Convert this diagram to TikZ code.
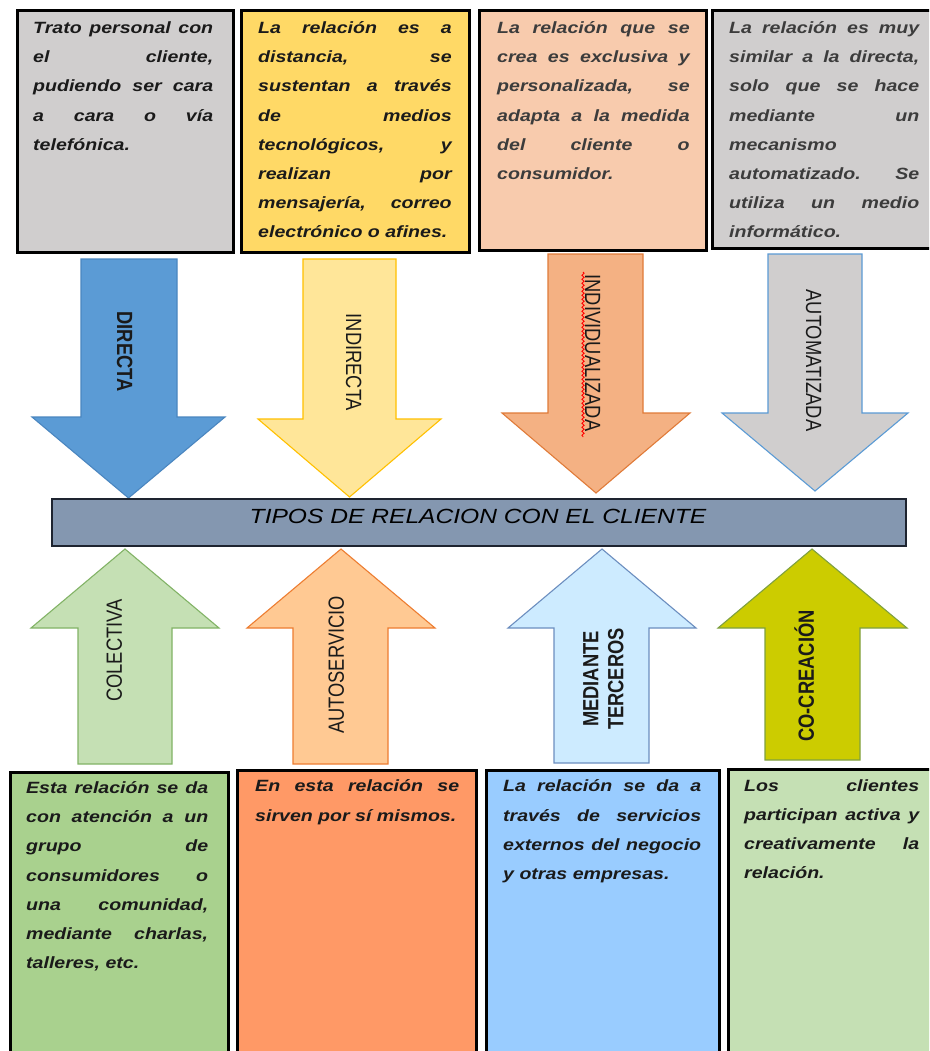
\documentclass[tikz,border=0pt]{standalone}
\usepackage{fontspec}
\setmainfont{Liberation Sans}
% wide face for the panel texts and the title, tall face for the arrow labels
\newfontfamily\widefont[FakeStretch=1.2]{Liberation Sans}
\newfontfamily\tallfont[FakeStretch=0.833]{Liberation Sans}
\usetikzlibrary{decorations.pathmorphing}

\definecolor{panelGray}{HTML}{D0CECE}
\definecolor{panelYellow}{HTML}{FFD966}
\definecolor{panelPeach}{HTML}{F8CBAD}
\definecolor{panelGreen}{HTML}{A9D18E}
\definecolor{panelOrange}{HTML}{FF9966}
\definecolor{panelBlue}{HTML}{99CCFF}
\definecolor{panelMint}{HTML}{C5E0B4}
\definecolor{barFill}{HTML}{8497B0}
\definecolor{barLine}{HTML}{1E2430}
\definecolor{txtDark}{HTML}{1A1A1A}
\definecolor{txtGray}{HTML}{3C3C3C}
% block arrow fills and outlines
\definecolor{aDirF}{HTML}{5B9BD5}\definecolor{aDirD}{HTML}{4A86C0}
\definecolor{aIndF}{HTML}{FFE699}\definecolor{aIndD}{HTML}{FFC000}
\definecolor{aIvzF}{HTML}{F4B183}\definecolor{aIvzD}{HTML}{E07B39}
\definecolor{aAutF}{HTML}{D0CECE}\definecolor{aAutD}{HTML}{5B9BD5}
\definecolor{aColF}{HTML}{C5E0B4}\definecolor{aColD}{HTML}{82B366}
\definecolor{aSrvF}{HTML}{FFC993}\definecolor{aSrvD}{HTML}{ED7D31}
\definecolor{aTerF}{HTML}{CDEBFF}\definecolor{aTerD}{HTML}{6C8EBF}
\definecolor{aCoF}{HTML}{CCCC00}\definecolor{aCoD}{HTML}{7FA040}

\tikzset{
  panel/.style={draw=black, line width=3pt, anchor=north west, inner sep=0pt},
  desc/.style={anchor=north west, inner sep=0pt, align=justify, text width=#1,
    text=txtDark,
    font=\widefont\bfseries\itshape\fontsize{16.3}{29.2}\selectfont,
    execute at begin node={\tolerance=10000\hyphenpenalty=10000\exhyphenpenalty=10000\rule{0pt}{21pt}}},
  blockarrow/.style={line width=1.1pt, line join=miter},
  downlabel/.style={rotate=-90, inner sep=0pt, text=txtDark,
    font=\tallfont\fontsize{22}{25}\selectfont, text height=15.8pt, text depth=0pt},
  uplabel/.style={rotate=90, inner sep=0pt, text=txtDark,
    font=\tallfont\fontsize{22}{25}\selectfont, text height=15.8pt, text depth=0pt},
}

\begin{document}
\begin{tikzpicture}[x=1pt, y=-1pt]
\useasboundingbox (0,0) rectangle (929,1051);
\fill[white] (0,0) rectangle (929,1051);
\clip (0,0) rectangle (929,1051);

% ---------- upper panels ----------
\node[panel, fill=panelGray,   minimum width=216pt, minimum height=241pt] (pDirecta)   at (15.5,9.5) {};
\node[panel, fill=panelYellow, minimum width=228pt, minimum height=241.5pt] (pIndirecta) at (239.5,9.5) {};
\node[panel, fill=panelPeach,  minimum width=227pt, minimum height=239.5pt] (pIndiv)     at (477.5,9.5) {};
\node[panel, fill=panelGray,   minimum width=230pt, minimum height=237.5pt] (pAuto)      at (710.5,9.5) {};

\node[desc=180pt] (tDirecta) at (33,12.3)
  {Trato personal con\linebreak el cliente,\linebreak pudiendo ser cara\linebreak a cara o vía\linebreak telefónica.};
\node[desc=193.5pt] (tIndirecta) at (258,12.3)
  {La relación es a\linebreak distancia, se\linebreak sustentan a través\linebreak de medios\linebreak tecnológicos, y\linebreak realizan por\linebreak mensajería, correo\linebreak electrónico o afines.};
\node[desc=192.5pt, text=txtGray] (tIndiv) at (497,12.3)
  {La relación que se\linebreak crea es exclusiva y\linebreak personalizada, se\linebreak adapta a la medida\linebreak del cliente o\linebreak consumidor.};
\node[desc=190pt, text=txtGray] (tAuto) at (729,12.3)
  {La relación es muy\linebreak similar a la directa,\linebreak solo que se hace\linebreak mediante un\linebreak mecanismo\linebreak automatizado. Se\linebreak utiliza un medio\linebreak informático.};

% ---------- downward arrows ----------
\filldraw[blockarrow, fill=aDirF, draw=aDirD]
  (81,259) -- (177,259) -- (177,417) -- (225,417) -- (128.5,498) -- (32,417) -- (81,417) -- cycle;
\filldraw[blockarrow, fill=aIndF, draw=aIndD]
  (303,259) -- (396,259) -- (396,419) -- (441,419) -- (349.5,497) -- (258,419) -- (303,419) -- cycle;
\filldraw[blockarrow, fill=aIvzF, draw=aIvzD]
  (548,254) -- (643,254) -- (643,413) -- (690,413) -- (596,493) -- (502,413) -- (548,413) -- cycle;
\filldraw[blockarrow, fill=aAutF, draw=aAutD]
  (768,254) -- (862,254) -- (862,413) -- (908,413) -- (815,491) -- (722,413) -- (768,413) -- cycle;

\node[downlabel, font=\tallfont\bfseries\fontsize{22}{25}\selectfont] (lDirecta) at (125,351.5) {DIRECTA};
\node[downlabel] (lIndirecta) at (354,362.5) {INDIRECTA};
\node[downlabel] (lIndiv) at (593,353) {INDIVIDUALIZADA};
\node[downlabel] (lAuto) at (814,360.5) {AUTOMATIZADA};
% spell-check squiggle under the long label
\draw[red, line width=0.9pt, decorate, decoration={snake, amplitude=1.1pt, segment length=4pt}]
  (583,272) -- (583,437);

% ---------- central bar ----------
\node[draw=barLine, line width=1.5pt, fill=barFill, minimum width=854pt, minimum height=47pt, inner sep=0pt]
  (tipos) at (479,522.5) {};
\node[anchor=base, inner sep=0pt, text=black, font=\widefont\itshape\fontsize{20.5}{24}\selectfont]
  (tiposText) at (478,523.3) {TIPOS DE RELACION CON EL CLIENTE};

% ---------- upward arrows ----------
\filldraw[blockarrow, fill=aColF, draw=aColD]
  (78,764) -- (172,764) -- (172,628) -- (219,628) -- (125,549) -- (31,628) -- (78,628) -- cycle;
\filldraw[blockarrow, fill=aSrvF, draw=aSrvD]
  (293,764) -- (388,764) -- (388,628) -- (435,628) -- (341,549) -- (247,628) -- (293,628) -- cycle;
\filldraw[blockarrow, fill=aTerF, draw=aTerD]
  (554,763) -- (649,763) -- (649,628) -- (696,628) -- (602,549) -- (508,628) -- (554,628) -- cycle;
\filldraw[blockarrow, fill=aCoF, draw=aCoD]
  (765,760) -- (860,760) -- (860,628) -- (907,628) -- (812,549) -- (718,628) -- (765,628) -- cycle;

\node[uplabel] (lColectiva) at (114,650.5) {COLECTIVA};
\node[uplabel] (lAutoserv) at (336,665) {AUTOSERVICIO};
\node[rotate=90, inner sep=0pt, text=txtDark, align=center,
      font=\tallfont\bfseries\fontsize{22}{25}\selectfont] (lTerceros) at (603.5,679) {MEDIANTE\\TERCEROS};
\node[uplabel, font=\tallfont\bfseries\fontsize{22}{25}\selectfont] (lCocrea) at (806,676) {CO-CREACIÓN};

% ---------- lower panels ----------
\node[panel, fill=panelGreen,  minimum width=218pt, minimum height=300pt] (pColectiva) at (8.5,770.5) {};
\node[panel, fill=panelOrange, minimum width=239.5pt, minimum height=300pt] (pAutoserv) at (235.5,768.5) {};
\node[panel, fill=panelBlue,   minimum width=233pt, minimum height=300pt] (pTerceros) at (484.5,768.5) {};
\node[panel, fill=panelMint,   minimum width=215pt, minimum height=300pt] (pCocrea) at (726.5,767.5) {};

\node[desc=182pt] (tColectiva) at (26,772.3)
  {Esta relación se da\linebreak con atención a un\linebreak grupo de\linebreak consumidores o\linebreak una comunidad,\linebreak mediante charlas,\linebreak talleres, etc.};
\node[desc=204pt] (tAutoserv) at (255,770.7)
  {En esta relación se\linebreak sirven por sí mismos.};
\node[desc=198pt] (tTerceros) at (503,770.7)
  {La relación se da a\linebreak través de servicios\linebreak externos del negocio\linebreak y otras empresas.};
\node[desc=175pt] (tCocrea) at (744,770)
  {Los clientes\linebreak participan activa y\linebreak creativamente la\linebreak relación.};
\end{tikzpicture}
\end{document}
